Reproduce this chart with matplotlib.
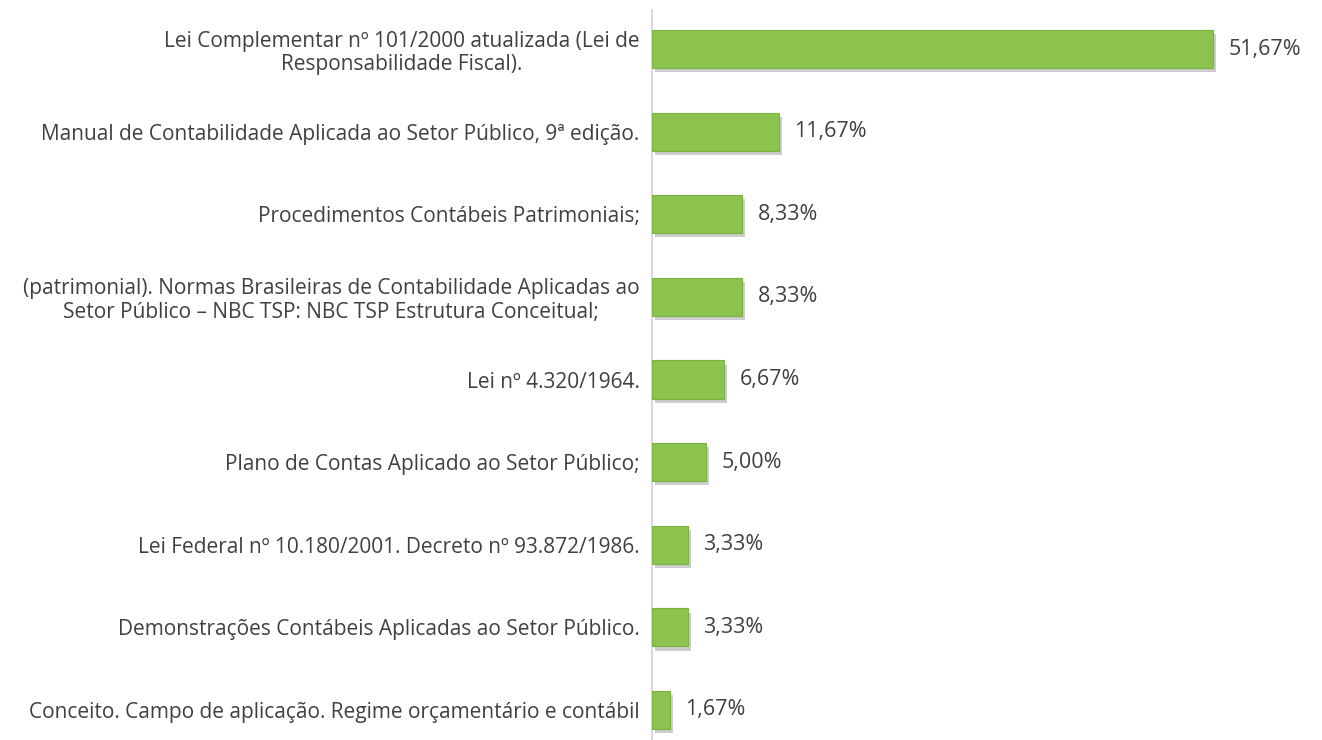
import matplotlib
matplotlib.use("Agg")
import matplotlib.pyplot as plt
import matplotlib.patheffects as pe

categories = [
    "Lei Complementar nº 101/2000 atualizada (Lei de\nResponsabilidade Fiscal).",
    "Manual de Contabilidade Aplicada ao Setor Público, 9ª edição.",
    "Procedimentos Contábeis Patrimoniais;",
    "(patrimonial). Normas Brasileiras de Contabilidade Aplicadas ao\nSetor Público – NBC TSP: NBC TSP Estrutura Conceitual;",
    "Lei nº 4.320/1964.",
    "Plano de Contas Aplicado ao Setor Público;",
    "Lei Federal nº 10.180/2001. Decreto nº 93.872/1986.",
    "Demonstrações Contábeis Aplicadas ao Setor Público.",
    "Conceito. Campo de aplicação. Regime orçamentário e contábil",
]
values = [51.67, 11.67, 8.33, 8.33, 6.67, 5.00, 3.33, 3.33, 1.67]
value_labels = ["51,67%", "11,67%", "8,33%", "8,33%", "6,67%", "5,00%", "3,33%", "3,33%", "1,67%"]

plt.rcParams['font.family'] = ['Open Sans', 'DejaVu Sans']

W, H = 1322, 740
fig = plt.figure(figsize=(W/100, H/100), dpi=100)
left_px = 652
top_px = 10
ax = fig.add_axes([left_px/W, 0, 1 - left_px/W, (H - top_px)/H])

pitch = 82.6
c0 = 49
top_idx = (top_px - c0) / pitch
bot_idx = 8 + (H - 710) / pitch
ax.set_ylim(bot_idx, top_idx)
ax.set_xlim(0, (W - left_px) / 10.86)

ypos = list(range(len(values)))
bars = ax.barh(ypos, values, height=0.46, color="#8CC34E", edgecolor="#7AB340", linewidth=0.8, zorder=3)
for b in bars:
    b.set_path_effects([pe.SimplePatchShadow(offset=(2, -3), shadow_rgbFace="#808080", alpha=0.4), pe.Normal()])

for y, v, lab in zip(ypos, values, value_labels):
    ax.annotate(lab, (v, y), xytext=(11, 0), textcoords="offset points",
                va="center", ha="left", fontsize=15.5, color="#404040")

ax.set_yticks(ypos)
ax.set_yticklabels(categories, fontsize=15, color="#404040", ha="right",
                   multialignment="center", linespacing=1.15)
ax.tick_params(axis="y", length=0, pad=9)
ax.set_xticks([])
for s in ["top", "right", "bottom"]:
    ax.spines[s].set_visible(False)
ax.spines["left"].set_color("#D9D9D9")
ax.spines["left"].set_linewidth(1.5)

fig.savefig("out.png", dpi=100)
